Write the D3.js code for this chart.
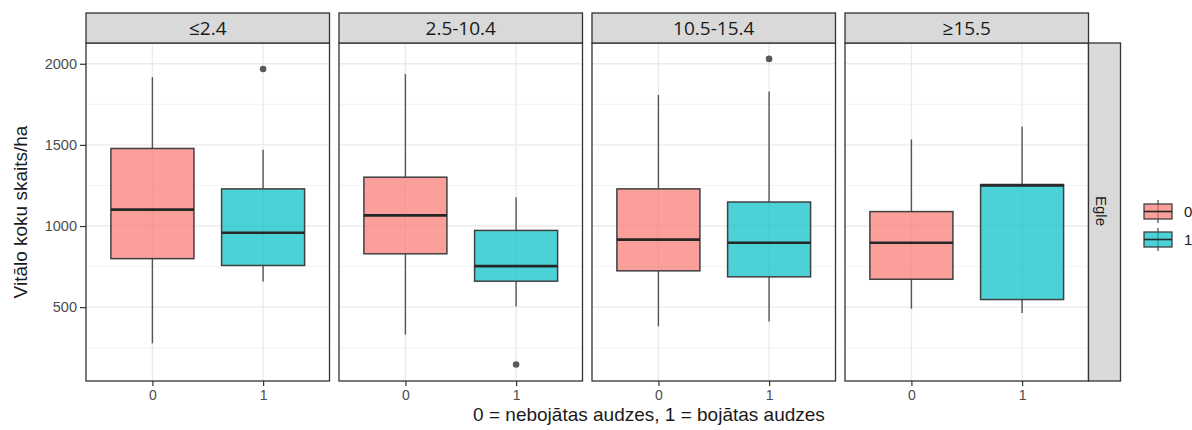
<!DOCTYPE html>
<html>
<head>
<meta charset="utf-8">
<script src="https://cdn.jsdelivr.net/npm/d3@7"></script>
<style>
  body { margin: 0; background: #fff; }
  text { font-family: "Liberation Sans", Arial, sans-serif; }
</style>
</head>
<body>
<div id="container"></div>
<script>
// panel labels (facet columns) and groups
var panels = ["≤2.4", "2.5-10.4", "10.5-15.4", "≥15.5"];
var groups = ["0", "1"];
var rowLabel = "Egle";

// box stats: [low whisker, q1, median, q3, high whisker]
var stats0 = [[277, 799, 1101, 1478, 1917],
              [331, 829, 1066, 1301, 1936],
              [382, 724, 916, 1229, 1808],
              [491, 672, 897, 1089, 1534]];
var stats1 = [[658, 757, 959, 1229, 1470],
              [504, 660, 753, 973, 1177],
              [411, 687, 897, 1148, 1829],
              [464, 547, 1250, 1256, 1612]];
// outliers per panel per group
var outliers0 = [[], [], [], []];
var outliers1 = [[1968], [147], [2030], []];

var yTicks = [500, 1000, 1500, 2000];
var yMinor = [250, 750, 1250, 1750];

var fills = {"0": "#F8766D", "1": "#00BFC4"};

var W = 1192, H = 430;
var margin = {top: 43, left: 86};
var panelW = 243.5, gap = 9.5, panelH = 338, stripH = 30, rStripW = 32;

var svg = d3.select("#container").append("svg")
	.attr("width", W)
	.attr("height", H);

var y = d3.scaleLinear().domain([45, 2128]).range([margin.top + panelH, margin.top]);

panels.forEach(function(p, i){
	var x0 = margin.left + i*(panelW + gap);
	var x = d3.scalePoint().domain(groups).range([x0, x0 + panelW]).padding(0.6);
	var bw = 0.75 * x.step();
	var g = svg.append("g");

	// panel background + grid
	g.append("rect").attr("x", x0).attr("y", margin.top).attr("width", panelW).attr("height", panelH)
		.style("fill", "#fff");
	yMinor.forEach(function(v){
		g.append("line").attr("x1", x0).attr("x2", x0+panelW).attr("y1", y(v)).attr("y2", y(v))
			.style("stroke", "#f0f0f0").style("stroke-width", 0.8);
	});
	yTicks.forEach(function(v){
		g.append("line").attr("x1", x0).attr("x2", x0+panelW).attr("y1", y(v)).attr("y2", y(v))
			.style("stroke", "#ebebeb").style("stroke-width", 1.4);
	});
	groups.forEach(function(k){
		g.append("line").attr("x1", x(k)).attr("x2", x(k)).attr("y1", margin.top).attr("y2", margin.top+panelH)
			.style("stroke", "#ebebeb").style("stroke-width", 1.4);
	});

	// boxes
	[stats0[i], stats1[i]].forEach(function(s, j){
		var k = groups[j], cx = x(k);
		g.append("line").attr("x1", cx).attr("x2", cx).attr("y1", y(s[0])).attr("y2", y(s[1]))
			.style("stroke", "#555").style("stroke-width", 1.4);
		g.append("line").attr("x1", cx).attr("x2", cx).attr("y1", y(s[3])).attr("y2", y(s[4]))
			.style("stroke", "#555").style("stroke-width", 1.4);
		g.append("rect").attr("x", cx - bw/2).attr("y", y(s[3])).attr("width", bw).attr("height", y(s[1]) - y(s[3]))
			.style("fill", fills[k]).style("fill-opacity", 0.7)
			.style("stroke", "#404040").style("stroke-width", 1.5);
		g.append("line").attr("x1", cx - bw/2).attr("x2", cx + bw/2).attr("y1", y(s[2])).attr("y2", y(s[2]))
			.style("stroke", "#262626").style("stroke-width", 2.6);
		var outs = j === 0 ? outliers0[i] : outliers1[i];
		outs.forEach(function(o){
			g.append("circle").attr("cx", cx).attr("cy", y(o)).attr("r", 3.3).style("fill", "#595959");
		});
	});

	// panel border
	g.append("rect").attr("x", x0).attr("y", margin.top).attr("width", panelW).attr("height", panelH)
		.style("fill", "none").style("stroke", "#333").style("stroke-width", 1.3);

	// strip
	g.append("rect").attr("x", x0).attr("y", margin.top - stripH).attr("width", panelW).attr("height", stripH)
		.style("fill", "#d9d9d9").style("stroke", "#333").style("stroke-width", 1.3);
	g.append("text").attr("x", x0 + panelW/2).attr("y", margin.top - stripH/2 + 7)
		.attr("text-anchor", "middle").style("font-family", "Open Sans, sans-serif")
		.style("font-size", "19px").style("fill", "#1a1a1a").text(p);

	// x axis
	var xAxis = d3.axisBottom(x).tickSize(5).tickPadding(4);
	var ax = g.append("g").attr("transform", "translate(0," + (margin.top + panelH) + ")").call(xAxis);
	ax.select(".domain").remove();
	ax.selectAll("line").style("stroke", "#333").style("stroke-width", 1.2);
	ax.selectAll("text").style("font-size", "14px").style("fill", "#4d4d4d")
		.style("font-family", "Liberation Sans, Arial, sans-serif");
});

// y axis
var yAxis = d3.axisLeft(y).tickValues(yTicks).tickFormat(d3.format("d")).tickSize(6).tickPadding(3);
var ay = svg.append("g").attr("transform", "translate(" + margin.left + ",0)").call(yAxis);
ay.select(".domain").remove();
ay.selectAll("line").style("stroke", "#333").style("stroke-width", 1.2);
ay.selectAll("text").style("font-size", "14.5px").style("fill", "#4d4d4d")
	.style("font-family", "Liberation Sans, Arial, sans-serif");

// right strip
var rx = margin.left + 4*panelW + 3*gap;
svg.append("rect").attr("x", rx).attr("y", margin.top).attr("width", rStripW).attr("height", panelH)
	.style("fill", "#d9d9d9").style("stroke", "#333").style("stroke-width", 1.3);
svg.append("text")
	.attr("transform", "translate(" + (rx + 7) + "," + 211 + ") rotate(90)")
	.attr("text-anchor", "middle").style("font-size", "15px").style("fill", "#1a1a1a").text(rowLabel);

// axis titles
svg.append("text").attr("transform", "translate(27,212) rotate(-90)")
	.attr("text-anchor", "middle").style("font-size", "19px").style("fill", "#1a1a1a")
	.text("Vitālo koku skaits/ha");
svg.append("text").attr("x", 649).attr("y", 421)
	.attr("text-anchor", "middle").style("font-size", "19px").style("fill", "#1a1a1a")
	.text("0 = nebojātas audzes, 1 = bojātas audzes");

// legend
var leg = svg.append("g").attr("transform", "translate(1144,200)");
groups.forEach(function(k, i){
	var gy = i * 28;
	var lg = leg.append("g").attr("transform", "translate(0," + gy + ")");
	lg.append("line").attr("x1", 14).attr("x2", 14).attr("y1", 0).attr("y2", 23)
		.style("stroke", "#555").style("stroke-width", 1.3);
	lg.append("rect").attr("x", 0).attr("y", 4).attr("width", 28).attr("height", 15)
		.style("fill", fills[k]).style("fill-opacity", 0.7).style("stroke", "#404040").style("stroke-width", 1.3);
	lg.append("line").attr("x1", 0).attr("x2", 28).attr("y1", 11.5).attr("y2", 11.5)
		.style("stroke", "#262626").style("stroke-width", 1.6);
	lg.append("text").attr("x", 40).attr("y", 17).style("font-size", "15px").style("fill", "#1a1a1a").text(k);
});
</script>
</body>
</html>
